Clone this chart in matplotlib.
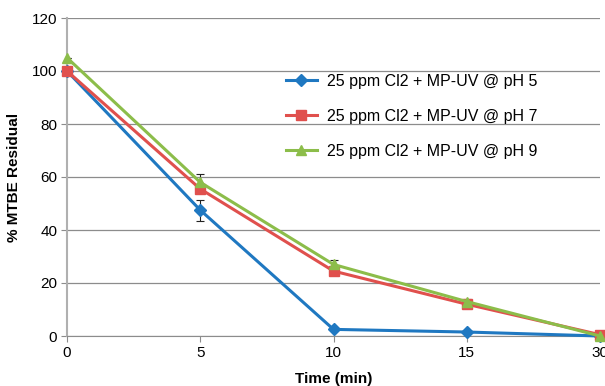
import matplotlib.pyplot as plt

plt.rcParams['font.family'] = ['Liberation Sans', 'DejaVu Sans']

times = ["0", "5", "10", "15", "30"]
ph5 = [100, 47.5, 2.5, 1.5, 0]
ph7 = [100, 55.5, 24.5, 12, 0.5]
ph9 = [105, 58, 27, 13, 0]
ph5_err = [0, 4, 0, 0, 0]
ph7_err = [0, 0, 0, 0, 0]
ph9_err = [0, 3.2, 1.8, 0.8, 0]
labels = ["25 ppm Cl2 + MP-UV @ pH 5",
          "25 ppm Cl2 + MP-UV @ pH 7",
          "25 ppm Cl2 + MP-UV @ pH 9"]

fig = plt.figure(figsize=(6.05, 3.86), dpi=100)
ax = fig.add_axes([67/605, 1 - 336/386, (600 - 67)/605, (336 - 18)/386])

x = list(range(len(times)))
series = [
    (ph5, ph5_err, "#1f78c1", "D", 6),
    (ph7, ph7_err, "#e0504d", "s", 7),
    (ph9, ph9_err, "#8cbd4a", "^", 7.5),
]
for (vals, err, col, mk, ms), lab in zip(series, labels):
    ax.errorbar(x, vals, yerr=err, fmt="none", ecolor="#222222",
                elinewidth=0.8, capsize=3, capthick=0.8, zorder=2.5)
    ax.plot(x, vals, color=col, lw=2.2, marker=mk, ms=ms,
            label=lab, zorder=3, clip_on=False)

ax.set_xlim(0, len(times) - 1)
ax.set_ylim(0, 120)
ax.set_yticks(range(0, 121, 20))
ax.set_xticks(x)
ax.set_xticklabels(times)
ax.grid(axis="y", color="#8c8c8c", lw=0.9)
ax.set_axisbelow(True)
for s in ["top", "right"]:
    ax.spines[s].set_visible(False)
ax.spines["left"].set_color("#b0b0b0")
ax.spines["left"].set_linewidth(1.5)
ax.spines["bottom"].set_color("#8c8c8c")
ax.tick_params(axis="both", colors="#8c8c8c", labelcolor="black",
               labelsize=11, length=4)
ax.tick_params(axis="y", pad=3)

ax.set_xlabel("Time (min)", fontsize=11, fontweight="bold", labelpad=8)
ax.set_ylabel("% MTBE Residual", fontsize=11, fontweight="bold", labelpad=8)

leg = ax.legend(loc="upper left", bbox_to_anchor=(0.383, 0.87), frameon=False,
                fontsize=11.5, labelspacing=1.25, handlelength=2.0,
                handletextpad=0.6)

fig.savefig("out.png", dpi=100)
